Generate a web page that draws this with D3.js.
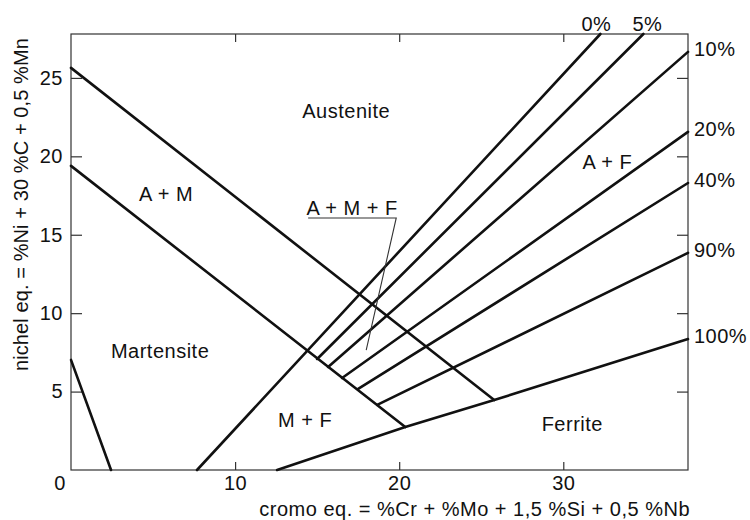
<!DOCTYPE html>
<html>
<head>
<meta charset="utf-8">
<script src="https://cdn.jsdelivr.net/npm/d3@7"></script>
<style>
	body { margin: 0; background: #fff; }
	svg text { font-family: 'Liberation Sans', Arial, Helvetica, sans-serif; fill: #111; letter-spacing: 0.5px; }
</style>
</head>
<body>
<div id="chart"></div>
<script>
// axis ticks
const xTicks = [10, 20, 30];
const yTicks = [5, 10, 15, 20, 25];

// iso-ferrite lines, in [cromo eq., nichel eq.] points
const ferriteLabels = ['0%', '5%', '10%', '20%', '40%', '90%', '100%'];
const ferriteLines = [
	[[7.68, 0], [32.26, 27.8]],
	[[15.0, 7.08], [34.88, 27.8]],
	[[15.67, 6.57], [37.6, 26.66]],
	[[16.52, 5.87], [37.6, 21.56]],
	[[17.5, 5.17], [37.6, 18.3]],
	[[18.66, 4.15], [37.6, 13.84]],
	[[12.56, 0], [20.37, 2.74], [25.79, 4.46], [37.6, 8.35]]
];

// phase boundaries
const boundaryAM = [[0, 25.64], [25.79, 4.46]];
const boundaryMart = [[0, 19.39], [20.37, 2.74]];
const boundaryLow = [[0, 7.02], [2.44, 0]];

// region names and where they sit
const regionNames = ['Austenite', 'A + M', 'A + F', 'Martensite', 'M + F', 'Ferrite'];
const regionSpots = [[16.77, 22.9], [5.79, 17.6], [32.68, 19.64], [5.43, 7.59], [14.27, 3.19], [30.55, 2.93]];

// A + M + F callout
const calloutName = 'A + M + F';
const calloutLeader = [[14.45, 16.07], [19.82, 16.07], [17.99, 7.65]];

const width = 750;
const height = 520;
const margin = { top: 34, right: 62, bottom: 50, left: 71 };
const fontSize = '20px';

const svg = d3.select('#chart')
	.append('svg')
	.attr('width', width)
	.attr('height', height);

const x = d3.scaleLinear().domain([0, 37.6]).range([margin.left, width - margin.right]);
const y = d3.scaleLinear().domain([0, 27.8]).range([height - margin.bottom, margin.top]);

const line = d3.line().x(d => x(d[0])).y(d => y(d[1]));

// frame
svg.append('rect')
	.attr('x', x(0))
	.attr('y', y(27.8))
	.attr('width', x(37.6) - x(0))
	.attr('height', y(0) - y(27.8))
	.attr('fill', 'none')
	.attr('stroke', '#333')
	.attr('stroke-width', 1.2);

// inward ticks on all four sides
function styleAxis(g) {
	g.select('.domain').remove();
	g.selectAll('.tick line').attr('stroke', '#333').attr('stroke-width', 1.2);
	g.selectAll('.tick text')
		.style('font-size', fontSize)
		.attr('fill', '#111');
}

svg.append('g')
	.attr('transform', `translate(0,${y(0)})`)
	.call(d3.axisTop(x).tickValues(xTicks).tickSize(8).tickFormat(''))
	.call(styleAxis);
svg.append('g')
	.attr('transform', `translate(0,${y(0)})`)
	.call(d3.axisBottom(x).tickValues(xTicks).tickSize(0).tickPadding(6))
	.call(styleAxis);
svg.append('g')
	.attr('transform', `translate(0,${y(27.8)})`)
	.call(d3.axisBottom(x).tickValues(xTicks).tickSize(8).tickFormat(''))
	.call(styleAxis);
svg.append('g')
	.attr('transform', `translate(${x(0)},0)`)
	.call(d3.axisRight(y).tickValues(yTicks).tickSize(11).tickFormat(''))
	.call(styleAxis);
svg.append('g')
	.attr('transform', `translate(${x(0)},0)`)
	.call(d3.axisLeft(y).tickValues(yTicks).tickSize(0).tickPadding(8))
	.call(styleAxis);
svg.append('g')
	.attr('transform', `translate(${x(37.6)},0)`)
	.call(d3.axisLeft(y).tickValues(yTicks).tickSize(11).tickFormat(''))
	.call(styleAxis);

// shared origin label
svg.append('text')
	.attr('x', x(0) - 11)
	.attr('y', y(0) + 6)
	.attr('dy', '0.71em')
	.attr('text-anchor', 'middle')
	.style('font-size', fontSize)
	.text('0');

// boundaries and ferrite lines
const plot = svg.append('g')
	.attr('fill', 'none')
	.attr('stroke', '#111')
	.attr('stroke-width', 2.6)
	.attr('stroke-linecap', 'round');

[boundaryAM, boundaryMart, boundaryLow].forEach(b => {
	plot.append('path').attr('d', line(b));
});

plot.selectAll('.ferrite')
	.data(ferriteLines)
	.enter()
	.append('path')
	.attr('class', 'ferrite')
	.attr('d', d => line(d));

// percent labels at the line ends
svg.selectAll('.pct')
	.data(ferriteLines)
	.enter()
	.append('text')
	.attr('class', 'pct')
	.style('font-size', fontSize)
	.each(function (d, i) {
		const end = d[d.length - 1];
		const t = d3.select(this).text(ferriteLabels[i]);
		if (end[1] >= 27.8) {
			t.attr('x', x(end[0]) + (i === 0 ? -4 : 4))
				.attr('y', y(end[1]) - 10)
				.attr('dy', '0.35em')
				.attr('text-anchor', 'middle');
		} else {
			t.attr('x', x(37.6) + 6)
				.attr('y', y(end[1]) - 3)
				.attr('dy', '0.35em')
				.attr('text-anchor', 'start');
		}
	});

// region labels
svg.selectAll('.region')
	.data(regionNames)
	.enter()
	.append('text')
	.attr('class', 'region')
	.attr('x', (d, i) => x(regionSpots[i][0]))
	.attr('y', (d, i) => y(regionSpots[i][1]))
	.attr('dy', '0.35em')
	.attr('text-anchor', 'middle')
	.style('font-size', fontSize)
	.text(d => d);

// A + M + F with its leader line
svg.append('text')
	.attr('x', (x(calloutLeader[0][0]) + x(calloutLeader[1][0])) / 2)
	.attr('y', y(calloutLeader[0][1]) - 10)
	.attr('dy', '0.35em')
	.attr('text-anchor', 'middle')
	.style('font-size', fontSize)
	.text(calloutName);
svg.append('path')
	.attr('d', line(calloutLeader))
	.attr('fill', 'none')
	.attr('stroke', '#333')
	.attr('stroke-width', 1.1);

// axis titles
svg.append('text')
	.attr('x', 690)
	.attr('y', 516)
	.attr('text-anchor', 'end')
	.style('font-size', fontSize)
	.text('cromo eq. = %Cr + %Mo + 1,5 %Si + 0,5 %Nb');
svg.append('text')
	.attr('transform', 'translate(28,38) rotate(-90)')
	.attr('text-anchor', 'end')
	.style('font-size', fontSize)
	.style('letter-spacing', '0.1px')
	.text('nichel eq. = %Ni + 30 %C + 0,5 %Mn');
</script>
</body>
</html>
